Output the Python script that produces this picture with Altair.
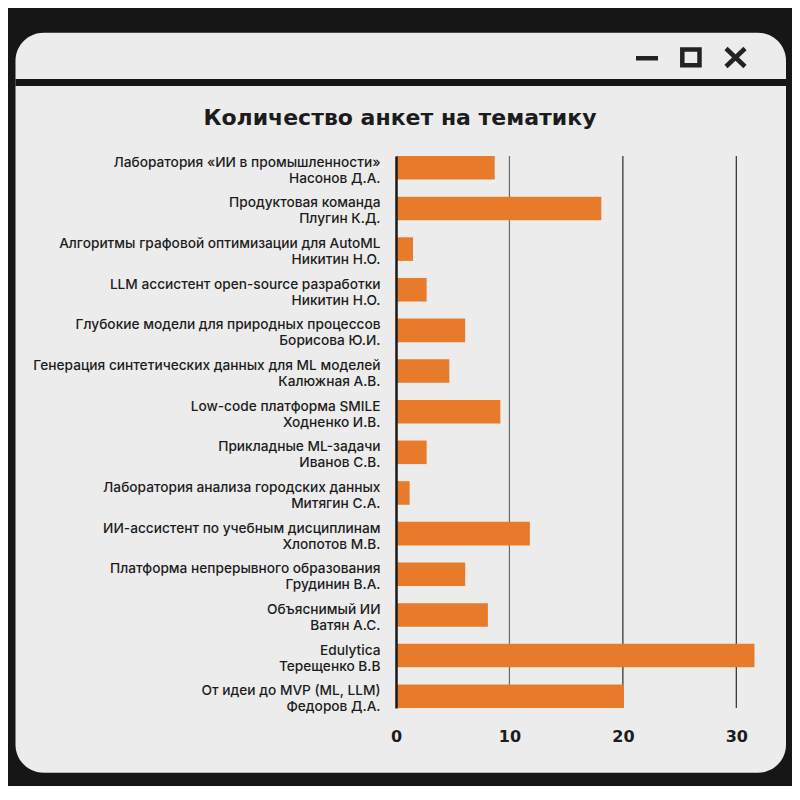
import altair as alt
import pandas as pd

# ---------------- data ----------------
topics = [
    "Лаборатория «ИИ в промышленности»",
    "Продуктовая команда",
    "Алгоритмы графовой оптимизации для AutoML",
    "LLM ассистент open-source разработки",
    "Глубокие модели для природных процессов",
    "Генерация синтетических данных для ML моделей",
    "Low-code платформа SMILE",
    "Прикладные ML-задачи",
    "Лаборатория анализа городских данных",
    "ИИ-ассистент по учебным дисциплинам",
    "Платформа непрерывного образования",
    "Объяснимый ИИ",
    "Edulytica",
    "От идеи до MVP (ML, LLM)",
]
leads = [
    "Насонов Д.А.",
    "Плугин К.Д.",
    "Никитин Н.О.",
    "Никитин Н.О.",
    "Борисова Ю.И.",
    "Калюжная А.В.",
    "Ходненко И.В.",
    "Иванов С.В.",
    "Митягин С.А.",
    "Хлопотов М.В.",
    "Грудинин В.А.",
    "Ватян А.С.",
    "Терещенко В.В",
    "Федоров Д.А.",
]
counts = [8.7, 18.1, 1.5, 2.7, 6.1, 4.7, 9.2, 2.7, 1.2, 11.8, 6.1, 8.1, 31.6, 20.1]
tick_values = [0, 10, 20, 30]
grid_values = [10, 20, 30]
x_domain = [0, 32]
TITLE = "Количество анкет на тематику"

labels = [f"{t}\n{l}" for t, l in zip(topics, leads)]
df = pd.DataFrame({"label": labels, "count": counts})
grid_df = pd.DataFrame({"v": grid_values})
one = pd.DataFrame({"k": [0]})

# ---------------- layout (page pixels) ----------------
PX0, PY0 = 396, 156          # plot origin on the page
W, H = 363, 552              # plot area size
CANVAS_W, CANVAS_H = 784, 778
PAD = {"left": PX0 - 8, "top": PY0 - 8,
       "right": CANVAS_W - (PX0 - 8) - W, "bottom": CANVAS_H - (PY0 - 8) - H}

def px(x):
    return x - PX0

def py(y):
    return y - PY0

INK = "#1c1c1c"
PANEL = "#ECECEC"
ORANGE = "#E87B2A"

# ---------------- decorations ----------------
panel = alt.Chart(one).mark_rect(color=PANEL, cornerRadius=28).encode(
    x=alt.value(px(15.5)), x2=alt.value(px(786)),
    y=alt.value(py(32.7)), y2=alt.value(py(772.7)))

separator = alt.Chart(one).mark_rect(color="#151515").encode(
    x=alt.value(px(15.5)), x2=alt.value(px(786)),
    y=alt.value(py(79)), y2=alt.value(py(86)))

minus_icon = alt.Chart(one).mark_rect(color="#222222").encode(
    x=alt.value(px(636)), x2=alt.value(px(658)),
    y=alt.value(py(56)), y2=alt.value(py(60.5)))

square_icon = alt.Chart(one).mark_rect(filled=False, stroke="#222222", strokeWidth=4.5).encode(
    x=alt.value(px(682.3)), x2=alt.value(px(699.5)),
    y=alt.value(py(49.5)), y2=alt.value(py(65.2)))

x_a = alt.Chart(one).mark_rule(color="#222222", strokeWidth=4.5).encode(
    x=alt.value(px(726)), x2=alt.value(px(745)),
    y=alt.value(py(48.5)), y2=alt.value(py(66.5)))
x_b = alt.Chart(one).mark_rule(color="#222222", strokeWidth=4.5).encode(
    x=alt.value(px(726)), x2=alt.value(px(745)),
    y=alt.value(py(66.5)), y2=alt.value(py(48.5)))

title = alt.Chart(one).mark_text(
    text=TITLE, font="DejaVu Sans", fontSize=22, fontWeight="bold",
    color=INK, align="center", baseline="alphabetic").encode(
    x=alt.value(px(400)), y=alt.value(py(124.5)))

# ---------------- axes / scales ----------------
x_scale = alt.Scale(domain=x_domain, nice=False, zero=True)
x_axis = alt.Axis(values=tick_values, title=None, labelFont="DejaVu Sans",
                  labelFontSize=16, labelFontWeight="bold", labelColor=INK,
                  labelPadding=20, ticks=False, domain=False, grid=False,
                  labelFlush=False, zindex=1)
y_axis = alt.Axis(title=None, labelExpr="split(datum.label, '\\n')",
                  labelFont="Inter", labelFontSize=13.7, labelFontWeight=500,
                  labelColor=INK, labelLineHeight=16, labelPadding=16,
                  labelOffset=-5, labelLimit=400, ticks=False, domain=True,
                  domainColor="#1a1a1a", domainWidth=2.5, grid=False, zindex=1)

grid = alt.Chart(grid_df).mark_rule(strokeWidth=1.2).encode(
    x=alt.X("v:Q", scale=x_scale, axis=x_axis),
    color=alt.condition(alt.datum.v == 10, alt.value("#6a6a6a"), alt.value("#2b2b2b")))

bars = alt.Chart(df).mark_bar(color=ORANGE).encode(
    y=alt.Y("label:N", sort=labels, axis=y_axis,
            scale=alt.Scale(paddingInner=0.42, paddingOuter=0)),
    x=alt.X("count:Q", scale=x_scale, axis=x_axis))

chart = alt.layer(
    panel, separator, minus_icon, square_icon, x_a, x_b, title, grid, bars
).properties(
    width=W, height=H, padding=PAD,
    autosize=alt.AutoSizeParams(type="none"),
    background="#161616",
).configure_view(stroke=None)

chart.save("out.html", embed_options={"renderer": "svg", "actions": False})
